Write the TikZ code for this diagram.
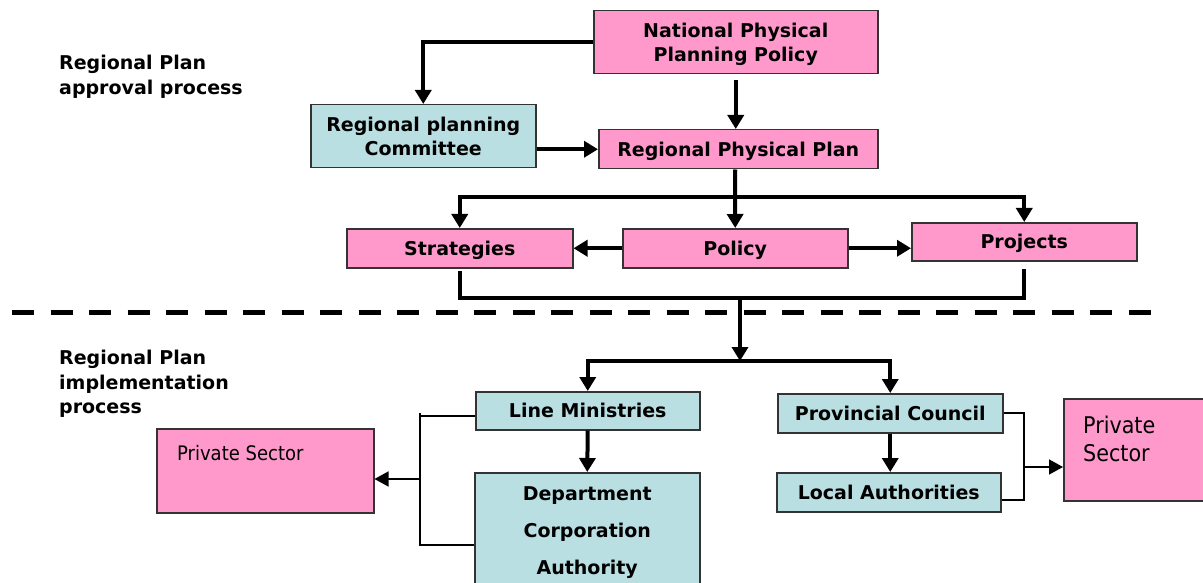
\documentclass[tikz,border=0pt]{standalone}
\usepackage{fontspec}
\setmainfont{DejaVu Sans}
\newfontfamily\condfont{DejaVu Sans Condensed}
\usetikzlibrary{arrows.meta}
\definecolor{boxpink}{HTML}{FF99CC}
\definecolor{boxblue}{HTML}{B9DFE3}
\definecolor{boxedge}{HTML}{333333}
\begin{document}
\begin{tikzpicture}[x=1pt,y=-1pt,
  box/.style={draw=boxedge, line width=1.5pt, inner sep=0pt, anchor=north west, align=center,
    text depth=0pt, font=\fontsize{19}{24}\selectfont\bfseries},
  pinkbox/.style={box, fill=boxpink},
  bluebox/.style={box, fill=boxblue},
  oneline/.style={text height=14.4pt},
  flow/.style={line width=4pt, line join=miter, -{Triangle[width=16pt,length=14pt]}},
  flowline/.style={line width=4pt, line join=miter},
  bracket/.style={line width=1.5pt, line join=miter},
  bracketarrow/.style={line width=1.5pt, -{Triangle[width=15pt,length=14pt]}},
  sidelabel/.style={anchor=north west, align=left, inner sep=0pt,
    font=\fontsize{19}{24.5}\selectfont\bfseries},
  pstext/.style={inner sep=0pt, align=left}
]
\useasboundingbox (0,0) rectangle (1203,583);
\clip (0,0) rectangle (1203,583);

% side labels
\node[sidelabel] (lab1) at (59,55) {Regional Plan\\approval process};
\node[sidelabel] (lab2) at (59,350) {Regional Plan\\implementation\\process};

% boxes
\node[pinkbox, minimum width=284pt, minimum height=63pt] (npp) at (593,10) {National Physical\\Planning Policy};
\node[bluebox, minimum width=225pt, minimum height=63pt] (rpc) at (310,104) {Regional planning\\Committee};
\node[pinkbox, oneline, minimum width=279pt, minimum height=39pt] (rpp) at (598,129) {Regional Physical Plan};
\node[pinkbox, oneline, minimum width=226pt, minimum height=39pt] (str) at (346,228) {Strategies};
\node[pinkbox, oneline, minimum width=225pt, minimum height=39pt] (pol) at (622,228) {Policy};
\node[pinkbox, oneline, minimum width=225pt, minimum height=38pt] (prj) at (911,222) {Projects};
\node[bluebox, oneline, minimum width=224pt, minimum height=38pt] (lm) at (475,391) {Line Ministries};
\node[bluebox, text depth=5pt, minimum width=225pt, minimum height=120pt,
      font=\fontsize{19}{37}\selectfont\bfseries] (dept) at (474,472) {Department\\Corporation\\Authority};
\node[bluebox, oneline, minimum width=225pt, minimum height=39pt] (pc) at (777,393) {Provincial Council};
\node[bluebox, oneline, minimum width=224pt, minimum height=39pt] (la) at (776,472) {Local Authorities};
\node[pinkbox, minimum width=217pt, minimum height=84pt] (psl) at (156,428) {};
\node[pinkbox, minimum width=170pt, minimum height=102pt] (psr) at (1063,398) {};
\node[pstext, anchor=base west, font=\condfont\fontsize{20}{24}\selectfont] (pslt) at (177,460) {Private Sector};
\node[pstext, anchor=north west, font=\condfont\fontsize{23}{28}\selectfont] (psrt) at (1083,416) {Private\\Sector};

% dashed separator
\draw[line width=5pt, dash pattern=on 22pt off 16.5pt] (12,312) -- (1160,312);

% upper connectors
\draw[flow] (npp.west) -| (rpc.north);
\draw[flow, shorten <=6pt] (npp.south) -- (npp.south |- rpp.north);
\draw[flow] (rpc.east |- rpp.west) -- (rpp.west);
\coordinate (c1) at (735,197);
\draw[flowline] (rpp.south -| pol.north) -- (c1);
\draw[flow] (c1) -- (pol.north);
\draw[flow] (c1) -| (str.north);
\draw[flow] (c1) -| (prj.north);
\draw[flow] (pol.west) -- (str.east);
\draw[flow] (pol.east) -- (pol.east -| prj.west);

% collector
\coordinate (c2) at (740,298);
\coordinate (c3) at (740,361);
\draw[flowline, shorten <=2pt, shorten >=7pt] (str.south) |- (c2) -| (prj.south);
\draw[flow] (c2) -- (c3);
\draw[flow] (c3) -| (lm.north);
\draw[flow] (c3) -| (pc.north);
\draw[flow] (lm.south) -- (dept.north);
\draw[flow] (pc.south) -- (pc.south |- la.north);

% left bracket
\coordinate (lb1) at (420,413);
\coordinate (lbt) at (420,416);
\coordinate (lb2) at (420,545);
\coordinate (lbm) at (420,479);
\draw[bracket] (lbt -| lm.west) -- (lbt);
\draw[bracket] (lb1) -- (lb2) -- (lb2 -| dept.west);
\draw[bracketarrow] (lbm) -- (lbm -| psl.east);

% right bracket
\coordinate (rb1) at (1024,413);
\coordinate (rb2) at (1024,500);
\coordinate (rbm) at (1024,467);
\draw[bracket] (rb1 -| pc.east) -- (rb1) -- (rb2) -- (rb2 -| la.east);
\draw[bracketarrow] (rbm) -- (rbm -| psr.west);
\end{tikzpicture}
\end{document}
